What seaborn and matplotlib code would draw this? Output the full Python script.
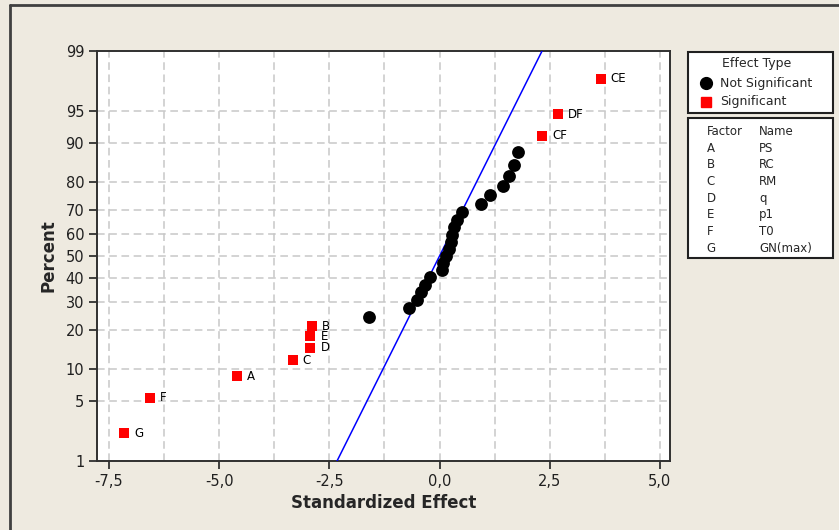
import numpy as np
import pandas as pd
import matplotlib
matplotlib.use("Agg")
import matplotlib.pyplot as plt
import seaborn as sns
from statistics import NormalDist
from matplotlib.patches import Rectangle
from matplotlib.lines import Line2D

# ---------------- data ----------------
sig_terms = ["G", "F", "A", "C", "D", "E", "B", "CF", "DF", "CE"]
sig_effect = [-7.15, -6.58, -4.59, -3.33, -2.93, -2.93, -2.89, 2.33, 2.69, 3.66]
sig_percent = [2.2, 5.4, 8.6, 11.8, 14.9, 18.1, 21.3, 91.4, 94.6, 97.8]

ns_effect = [-1.61, -0.69, -0.52, -0.42, -0.34, -0.22, 0.06, 0.08, 0.14, 0.21,
             0.25, 0.29, 0.32, 0.39, 0.50, 0.93, 1.14, 1.44, 1.58, 1.70, 1.77]
ns_percent = [24.5, 27.7, 30.9, 34.1, 37.3, 40.4, 43.6, 46.8, 50.0, 53.2,
              56.4, 59.6, 62.7, 65.9, 69.1, 72.3, 75.5, 78.7, 81.8, 85.0, 88.2]

line_percent = [1, 5, 10, 30, 50, 70, 90, 95, 99]

y_ticks = [1, 5, 10, 20, 30, 40, 50, 60, 70, 80, 90, 95, 99]
x_ticks = [-7.5, -5.0, -2.5, 0.0, 2.5, 5.0]
x_tick_labels = ["-7,5", "-5,0", "-2,5", "0,0", "2,5", "5,0"]
x_minor = [-6.25, -3.75, -1.25, 1.25, 3.75]

factors = ["A", "B", "C", "D", "E", "F", "G"]
names = ["PS", "RC", "RM", "q", "p1", "T0", "GN(max)"]

# ---------------- style ----------------
sns.set_theme(style="white")
plt.rcParams["font.family"] = ["DejaVu Sans"]
BG = "#EEEAE0"
W, H = 839, 530

nd = NormalDist(0, 1)
fwd_s = np.vectorize(lambda p: nd.inv_cdf(min(max(p / 100.0, 1e-9), 1 - 1e-9)), otypes=[float])
inv_s = np.vectorize(lambda z: nd.cdf(z) * 100.0, otypes=[float])

fig = plt.figure(figsize=(W / 100, H / 100), dpi=100, facecolor=BG)

def fx(px):
    return px / W

def fy(py):
    return 1 - py / H

ax_l, ax_r, ax_t, ax_b = 96.7, 670, 51, 461
ax = fig.add_axes([fx(ax_l), fy(ax_b), fx(ax_r) - fx(ax_l), fy(ax_t) - fy(ax_b)])
ax.set_facecolor("white")
ax.set_yscale("function", functions=(fwd_s, inv_s))

df_ns = pd.DataFrame({"effect": ns_effect, "percent": ns_percent})
df_sig = pd.DataFrame({"effect": sig_effect, "percent": sig_percent, "term": sig_terms})
df_line = pd.DataFrame({"percent": line_percent})
df_line["effect"] = [nd.inv_cdf(p / 100.0) for p in line_percent]

ax.plot(df_line["effect"], df_line["percent"], color="#0000FF", lw=1.1, zorder=3)
sns.scatterplot(data=df_ns, x="effect", y="percent", ax=ax, color="black",
                marker="o", s=85, edgecolor="black", linewidth=0, zorder=4)
sns.scatterplot(data=df_sig, x="effect", y="percent", ax=ax, color="#FF0000",
                marker="s", s=58, edgecolor="#FF0000", linewidth=0, zorder=4)

for _, r in df_sig.iterrows():
    ax.annotate(r["term"], (r["effect"], r["percent"]), xytext=(10, 0),
                textcoords="offset pixels", ha="left", va="center",
                fontsize=8.5, color="black", zorder=5)

ax.set_xlim(-7.78, 5.23)
ax.set_ylim(1, 99)
ax.set_yticks(y_ticks)
ax.set_yticklabels([str(t) for t in y_ticks])
ax.set_xticks(x_ticks)
ax.set_xticklabels(x_tick_labels)
ax.set_xticks(x_minor, minor=True)
ax.yaxis.set_minor_locator(matplotlib.ticker.NullLocator())

ax.grid(True, which="major", axis="both", color="#C8C8C8", linestyle=(0, (5, 3)), lw=1.1)
ax.grid(True, which="minor", axis="x", color="#C8C8C8", linestyle=(0, (5, 3)), lw=1.1)
ax.set_axisbelow(True)

ax.tick_params(axis="both", which="major", direction="out", length=6, width=1.3,
               color="#303030", labelsize=10.5, labelcolor="#202020", pad=3)
ax.tick_params(axis="x", which="minor", length=0)
ax.tick_params(left=True, bottom=True)

for sp in ax.spines.values():
    sp.set_visible(True)
    sp.set_color("#303030")
    sp.set_linewidth(1.4)

ax.set_xlabel("Standardized Effect", fontsize=12, fontweight="bold", labelpad=4)
ax.set_ylabel("Percent", fontsize=12, fontweight="bold", labelpad=6)

# outer frame (top/left edge)
fig.add_artist(Line2D([fx(10), 1], [fy(5), fy(5)], color="#404040", lw=2))
fig.add_artist(Line2D([fx(10), fx(10)], [fy(5), 0], color="#404040", lw=2))

# legend boxes
bx_l, bx_r = 687.5, 832.5
fig.add_artist(Rectangle((fx(bx_l), fy(113)), fx(bx_r) - fx(bx_l), fy(51.7) - fy(113),
                         facecolor="white", edgecolor="#202020", lw=1.5))
fig.add_artist(Rectangle((fx(bx_l), fy(258.3)), fx(bx_r) - fx(bx_l), fy(118.3) - fy(258.3),
                         facecolor="white", edgecolor="#202020", lw=1.5))

lfs = 9
fig.text(fx(757), fy(64), "Effect Type", ha="center", va="center", fontsize=lfs)
fig.add_artist(Line2D([fx(706)], [fy(83.3)], marker="o", markersize=8.5, color="black", lw=0))
fig.text(fx(720), fy(83.3), "Not Significant", ha="left", va="center", fontsize=lfs)
fig.add_artist(Line2D([fx(706)], [fy(102)], marker="s", markersize=6.5, color="#FF0000", lw=0))
fig.text(fx(720), fy(102), "Significant", ha="left", va="center", fontsize=lfs)

fig.text(fx(706.7), fy(131.7), "Factor", ha="left", va="center", fontsize=8.5)
fig.text(fx(759), fy(131.7), "Name", ha="left", va="center", fontsize=8.5)
for i, (f, n) in enumerate(zip(factors, names)):
    yy = 148.3 + i * 16.67
    fig.text(fx(706.7), fy(yy), f, ha="left", va="center", fontsize=8.5)
    fig.text(fx(759), fy(yy), n, ha="left", va="center", fontsize=8.5)

fig.savefig("out.png", dpi=100, facecolor=BG)
